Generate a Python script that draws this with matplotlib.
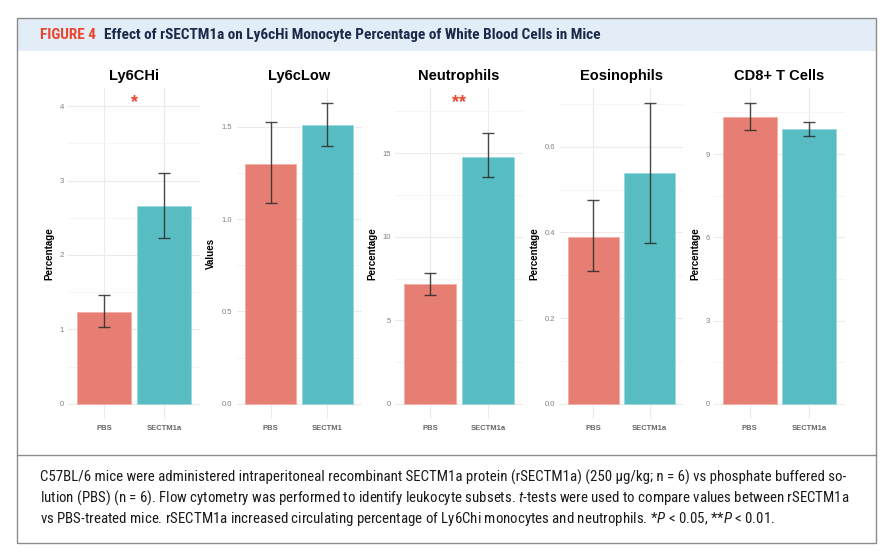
import matplotlib
matplotlib.use('Agg')
import matplotlib.pyplot as plt
from matplotlib.patches import Rectangle
from matplotlib.lines import Line2D
from matplotlib import font_manager

panels = ['Ly6CHi', 'Ly6cLow', 'Neutrophils', 'Eosinophils', 'CD8+ T Cells']
ylabels = ['Percentage', 'Values', 'Percentage', 'Percentage', 'Percentage']
groups = [['PBS', 'SECTM1a'], ['PBS', 'SECTM1'], ['PBS', 'SECTM1a'],
          ['PBS', 'SECTM1a'], ['PBS', 'SECTM1a']]

pbs_mean = [1.24, 1.30, 7.2, 0.39, 10.33]
pbs_lo = [1.03, 1.087, 6.5, 0.31, 9.86]
pbs_hi = [1.46, 1.522, 7.85, 0.475, 10.84]
sec_mean = [2.66, 1.51, 14.8, 0.538, 9.92]
sec_lo = [2.23, 1.396, 13.55, 0.375, 9.67]
sec_hi = [3.10, 1.627, 16.2, 0.702, 10.16]

stars = ['*', '', '**', '', '']
star_y = [4.04, 0, 18.0, 0, 0]

yticks = [[0, 1, 2, 3, 4], [0, 0.5, 1.0, 1.5], [0, 5, 10, 15],
          [0, 0.2, 0.4, 0.6], [0, 3, 6, 9]]
ytick_fmt = ['{:.0f}', '{:.1f}', '{:.0f}', '{:.1f}', '{:.0f}']

header_tag = 'FIGURE 4'
header_title = 'Effect of rSECTM1a on Ly6cHi Monocyte Percentage of White Blood Cells in Mice'
caption = [
    'C57BL/6 mice were administered intraperitoneal recombinant SECTM1a protein (rSECTM1a) (250 \u03bcg/kg; n = 6) vs phosphate buffered so-',
    'lution (PBS) (n = 6). Flow cytometry was performed to identify leukocyte subsets. $t$-tests were used to compare values between rSECTM1a',
    'vs PBS-treated mice. rSECTM1a increased circulating percentage of Ly6Chi monocytes and neutrophils. *$P$ < 0.05, **$P$ < 0.01.',
]

# pick a condensed face if one is installed, otherwise Liberation Sans
names = {f.name for f in font_manager.fontManager.ttflist}
narrow = 'Liberation Sans'
for cand in ['Liberation Sans Narrow', 'Roboto Condensed', 'Open Sans Condensed',
             'Noto Sans Condensed', 'DejaVu Sans Condensed']:
    if cand in names:
        narrow = cand
        break

plt.rcParams['font.family'] = ['Liberation Sans', 'DejaVu Sans']
plt.rcParams['mathtext.fontset'] = 'custom'
plt.rcParams['mathtext.rm'] = narrow
plt.rcParams['mathtext.it'] = narrow + ':italic'

W, H = 888, 556
fig = plt.figure(figsize=(W / 100, H / 100), dpi=100)
renderer = fig.canvas.get_renderer()


def fx(x):
    return x / W


def fy(y):
    return 1 - y / H


def width_px(t):
    return t.get_window_extent(renderer).width


# frame, header band, caption separator
fig.patches.append(Rectangle((fx(17), fy(51)), fx(876) - fx(17), fy(18) - fy(51),
                             transform=fig.transFigure, fc='#E3EDF7', ec='none'))
fig.patches.append(Rectangle((fx(17), fy(543)), fx(876) - fx(17), fy(18) - fy(543),
                             transform=fig.transFigure, fill=False, ec='#8c8c8c', lw=1))
fig.lines.append(Line2D([fx(17), fx(876)], [fy(455), fy(455)],
                        transform=fig.transFigure, color='#8c8c8c', lw=1))

# header: size chosen so the line runs from x=40 to x=603
t1 = fig.text(fx(40), fy(35), header_tag, color='#E8452C', fontsize=9,
              fontweight='bold', family=[narrow, 'DejaVu Sans'], va='center')
t2 = fig.text(fx(40), fy(35), header_title, color='#1B2A4A', fontsize=9,
              fontweight='bold', family=[narrow, 'DejaVu Sans'], va='center')
hs = 9 * (603 - 40 - 8) / (width_px(t1) + width_px(t2))
t1.set_fontsize(hs)
t2.set_fontsize(hs)
t2.set_x(fx(40 + width_px(t1) + 8))

# caption: size chosen so the first line runs from x=40 to x=843
cap = []
for i, line in enumerate(caption):
    cap.append(fig.text(fx(40), fy(477 + 21 * i), line, fontsize=10,
                        family=[narrow, 'DejaVu Sans'], color='#1a1a1a', va='center'))
cs = 10 * (843 - 40) / width_px(cap[0])
for t in cap:
    t.set_fontsize(cs)

ax_x = [(68, 200), (236.5, 361.5), (395.3, 522.7), (559.6, 683.4), (714, 845)]
top, bottom = 88, 419

for i, name in enumerate(panels):
    x0, x1 = ax_x[i]
    ax = fig.add_axes([fx(x0), fy(bottom), (x1 - x0) / W, (bottom - top) / H])
    means = [pbs_mean[i], sec_mean[i]]
    err = [[pbs_mean[i] - pbs_lo[i], sec_mean[i] - sec_lo[i]],
           [pbs_hi[i] - pbs_mean[i], sec_hi[i] - sec_mean[i]]]
    ax.bar([1, 2], means, width=0.9, color=['#E67E73', '#58BDC2'],
           edgecolor=['#F1AFA7', '#9BD8DB'], linewidth=0.6, zorder=2)
    ax.errorbar([1, 2], means, yerr=err, fmt='none', ecolor='#2b2b2b', alpha=0.85,
                elinewidth=1.0, capsize=4, capthick=1.0, zorder=3)
    ymax = max(pbs_hi[i], sec_hi[i], star_y[i])
    pad = 0.05 * ymax
    ax.set_ylim(-pad, ymax + pad)
    ax.set_xlim(0.4, 2.6)
    if stars[i]:
        ax.text(1.5, star_y[i], stars[i], color='#E8452C', fontsize=13,
                fontweight='bold', ha='center', va='center', zorder=4)

    ticks = yticks[i]
    ax.set_yticks(ticks)
    ax.set_yticklabels([ytick_fmt[i].format(t) for t in ticks])
    minors = [(a + b) / 2 for a, b in zip(ticks[:-1], ticks[1:])]
    step = ticks[1] - ticks[0]
    if ticks[-1] + step / 2 < ymax + pad:
        minors.append(ticks[-1] + step / 2)
    ax.set_yticks(minors, minor=True)
    ax.set_xticks([1, 2])
    ax.set_xticklabels(groups[i], fontweight='bold')

    ax.grid(True, which='major', color='#EBEBEB', lw=0.8, zorder=0)
    ax.grid(True, which='minor', axis='y', color='#F4F4F4', lw=0.6, zorder=0)
    ax.set_axisbelow(True)
    for s in ax.spines.values():
        s.set_visible(False)
    ax.tick_params(axis='both', which='both', length=0)
    ax.tick_params(axis='y', labelsize=5.5, labelcolor='#808080', pad=3)
    ax.tick_params(axis='x', labelsize=5.5, labelcolor='#666666', pad=4)
    ax.set_ylabel(ylabels[i], fontsize=7, fontweight='bold', labelpad=4)
    ax.set_title(name, fontsize=10.5, fontweight='bold', pad=6)

fig.savefig('out.png', dpi=100)
